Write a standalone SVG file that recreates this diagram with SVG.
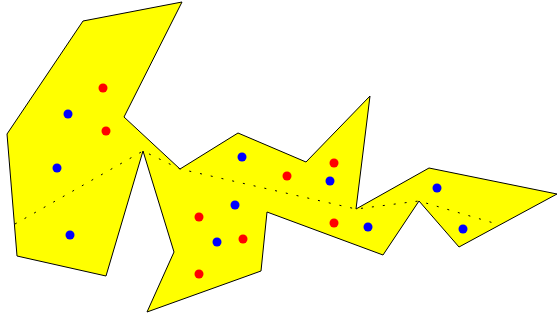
<svg xmlns="http://www.w3.org/2000/svg" width="557" height="320" viewBox="0 0 557 320">
<style>
.poly{fill:#ffff00;stroke:#000;stroke-width:1;stroke-linejoin:miter}
.diag{fill:none;stroke:#000;stroke-width:1;stroke-dasharray:2,9}
.r{fill:#ff0000}
.b{fill:#0000ff}
</style>
<rect width="557" height="320" fill="#fff"/>
<g id="polygon">
<polygon class="poly" points="124,117 180,169 238,133 306,162 370,96 356,209 429,168 557,194 459,247 419,201 383,255 267,212 261,271 147,312 174,252 143,151 106,276 17,256 7,134 83,21 182,2"/>
</g>
<g id="diagonals">
<polyline class="diag" points="15,224 143,151 180,169 356,209 419,201 497,224"/>
</g>
<g id="red-points">
<circle class="r" cx="103" cy="88" r="4.5"/>
<circle class="r" cx="106" cy="131" r="4.5"/>
<circle class="r" cx="334" cy="163" r="4.5"/>
<circle class="r" cx="287" cy="176" r="4.5"/>
<circle class="r" cx="199" cy="217" r="4.5"/>
<circle class="r" cx="243" cy="239" r="4.5"/>
<circle class="r" cx="199" cy="274" r="4.5"/>
<circle class="r" cx="334" cy="223" r="4.5"/>
</g>
<g id="blue-points">
<circle class="b" cx="68" cy="114" r="4.5"/>
<circle class="b" cx="57" cy="168" r="4.5"/>
<circle class="b" cx="70" cy="235" r="4.5"/>
<circle class="b" cx="242" cy="157" r="4.5"/>
<circle class="b" cx="330" cy="181" r="4.5"/>
<circle class="b" cx="235" cy="205" r="4.5"/>
<circle class="b" cx="217" cy="242" r="4.5"/>
<circle class="b" cx="368" cy="227" r="4.5"/>
<circle class="b" cx="437" cy="188" r="4.5"/>
<circle class="b" cx="463" cy="229" r="4.5"/>
</g>
</svg>
